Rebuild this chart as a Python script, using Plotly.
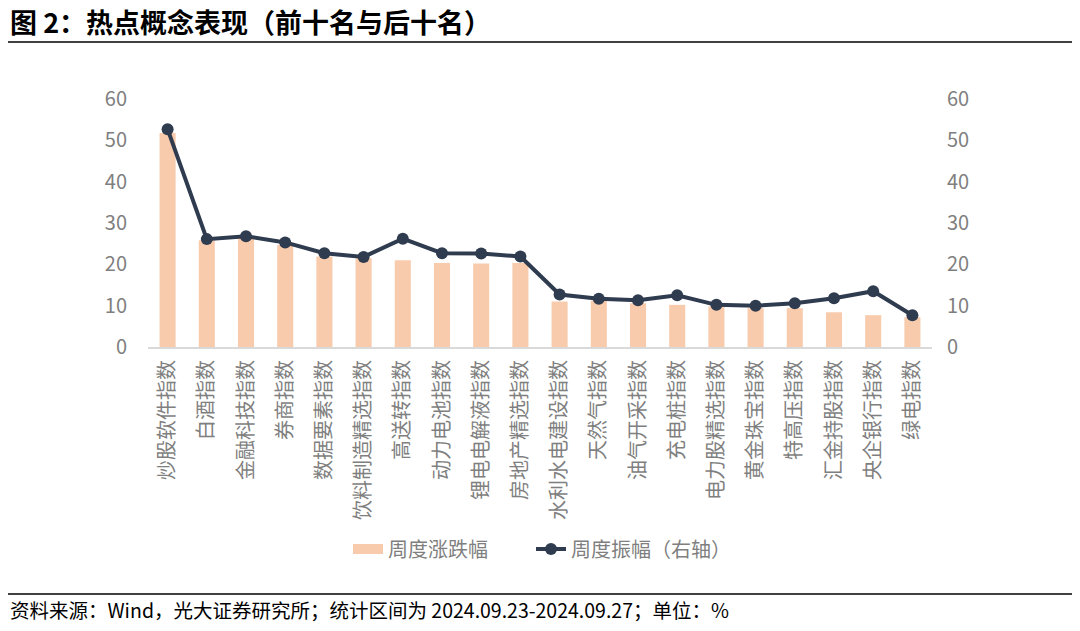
import plotly.graph_objects as go

categories = ["炒股软件指数", "白酒指数", "金融科技指数", "券商指数", "数据要素指数", "饮料制造精选指数",
              "高送转指数", "动力电池指数", "锂电电解液指数", "房地产精选指数", "水利水电建设指数",
              "天然气指数", "油气开采指数", "充电桩指数", "电力股精选指数", "黄金珠宝指数",
              "特高压指数", "汇金持股指数", "央企银行指数", "绿电指数"]
weekly_change = [51.8, 25.8, 26.3, 24.7, 21.9, 21.5, 21.0, 20.3, 20.2, 20.3,
                 11.0, 11.2, 10.6, 10.2, 9.8, 9.4, 9.4, 8.4, 7.7, 7.2]
weekly_amplitude = [52.7, 26.1, 26.8, 25.3, 22.7, 21.8, 26.2, 22.7, 22.6, 21.9,
                    12.7, 11.7, 11.3, 12.5, 10.2, 10.0, 10.6, 11.8, 13.5, 7.7]
y_ticks = [0, 10, 20, 30, 40, 50, 60]

W, H = 1080, 631
# target plot area in screen pixels: x 148..932, y 99..347
L = 148
R = W - 932
T = 99
B = H - 347
FONT = "Noto Sans CJK SC"
GRAY = "#7f7f7f"
BAR = "#F8CBAD"
LINE = "#2F3B4E"

fig = go.Figure()
fig.add_trace(go.Bar(x=categories, y=weekly_change, name="周度涨跌幅", showlegend=False,
                     marker=dict(color=BAR, line=dict(width=0)), yaxis="y"))
# legend swatch for bars (wide rectangle as in the reference)
fig.add_trace(go.Scatter(x=[None], y=[None], name="周度涨跌幅", mode="lines",
                         line=dict(color=BAR, width=10), yaxis="y", legend="legend"))
fig.add_trace(go.Scatter(x=categories, y=weekly_amplitude, name="周度振幅（右轴）",
                         mode="lines+markers", yaxis="y2", legend="legend2",
                         line=dict(color=LINE, width=4),
                         marker=dict(color=LINE, size=12)))

ph = H - T - B

def px_x(x):
    return (x - L) / (W - L - R)

def px_y(y):
    return (H - B - y) / ph

legend_common = dict(orientation="h", xanchor="left", y=px_y(549), yanchor="middle",
                     font=dict(size=20, color=GRAY), bgcolor="rgba(0,0,0,0)")

fig.update_layout(
    width=W, height=H, autosize=False,
    margin=dict(l=L, r=R, t=T, b=B, pad=0, autoexpand=False),
    paper_bgcolor="white", plot_bgcolor="white",
    font=dict(family=FONT, size=20, color=GRAY),
    bargap=0.59,
    showlegend=True,
    legend=dict(x=px_x(348), **legend_common),
    legend2=dict(x=px_x(531), **legend_common),
    xaxis=dict(range=[-0.5, len(categories) - 0.5], tickangle=-90, showline=True,
               linecolor="#d9d9d9", linewidth=2, automargin=False,
               ticks="", tickfont=dict(size=20, color=GRAY), showgrid=False, ticklabelstandoff=3),
    yaxis=dict(range=[0, 60], tickvals=y_ticks, showgrid=False, zeroline=False, automargin=False,
               showline=False, ticks="", tickfont=dict(size=20, color=GRAY), ticklabelstandoff=20),
    yaxis2=dict(range=[0, 60], tickvals=y_ticks, overlaying="y", side="right", showgrid=False,
                zeroline=False, showline=False, ticks="", tickfont=dict(size=20, color=GRAY),
                automargin=False, ticklabelstandoff=14),
)

fig.add_annotation(text="<b>图 2：热点概念表现（前十名与后十名）</b>", xref="paper", yref="paper",
                   x=px_x(8), y=px_y(22), xanchor="left", yanchor="middle", showarrow=False,
                   font=dict(family=FONT, size=27, color="black"))
fig.add_shape(type="line", xref="paper", yref="paper", x0=px_x(8), x1=px_x(1072),
              y0=px_y(42), y1=px_y(42), line=dict(color="black", width=1.5))
fig.add_shape(type="line", xref="paper", yref="paper", x0=px_x(8), x1=px_x(1072),
              y0=px_y(594), y1=px_y(594), line=dict(color="black", width=1.5))
fig.add_annotation(text="资料来源：Wind，光大证券研究所；统计区间为 2024.09.23-2024.09.27；单位：%",
                   xref="paper", yref="paper", x=px_x(8), y=px_y(609), xanchor="left",
                   yanchor="middle", showarrow=False,
                   font=dict(family=FONT, size=19.5, color="black"))

fig.write_html("out.html", config={"displayModeBar": False},
               post_script="document.body.style.margin='0';")
